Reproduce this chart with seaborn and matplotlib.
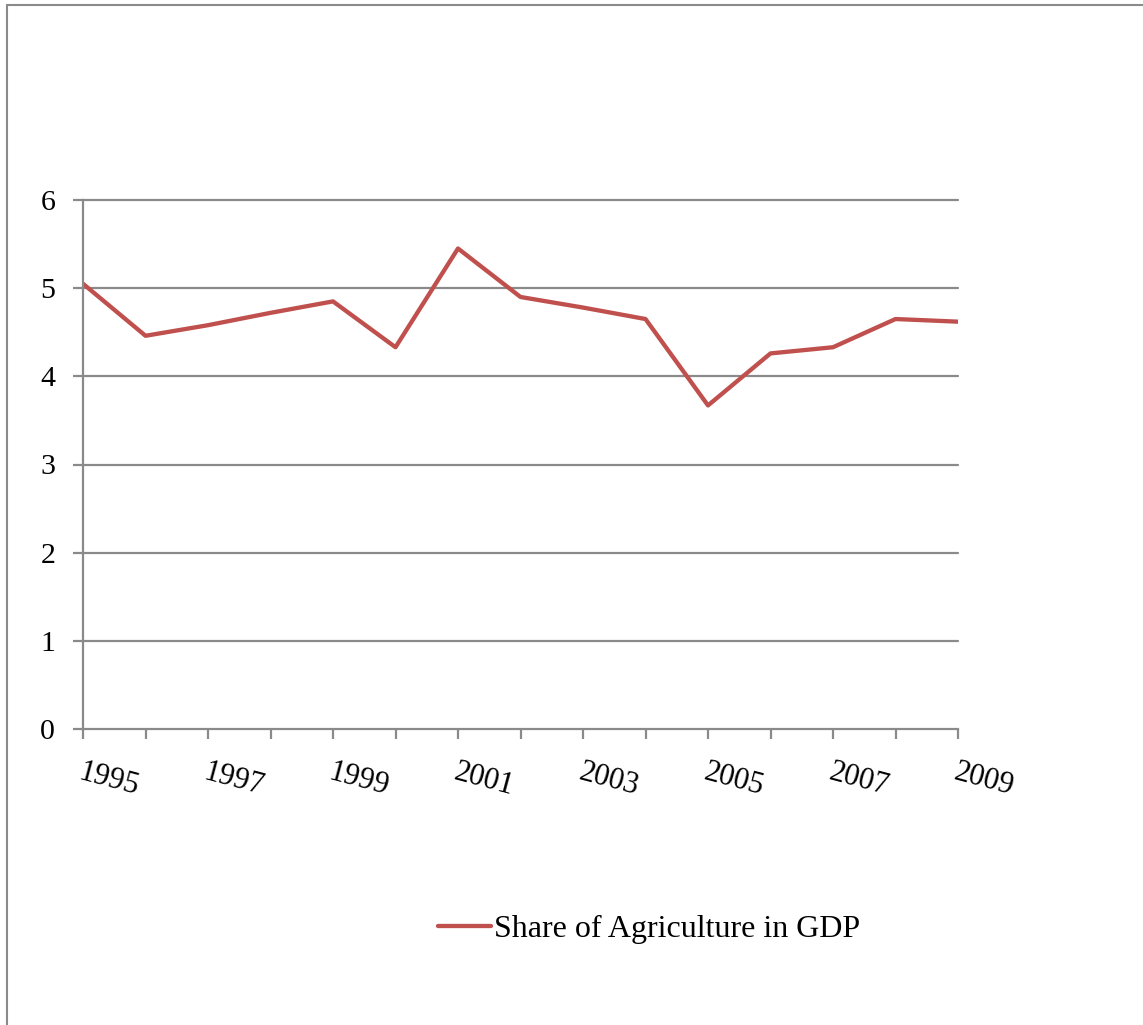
import matplotlib
matplotlib.use("Agg")
import matplotlib.pyplot as plt
import seaborn as sns
import pandas as pd
from matplotlib.lines import Line2D

years = list(range(1995, 2010))
share = [5.05, 4.46, 4.58, 4.72, 4.85, 4.33, 5.45, 4.90, 4.78, 4.65, 3.67, 4.26, 4.33, 4.65, 4.62]
series_name = "Share of Agriculture in GDP"
yticks = [0, 1, 2, 3, 4, 5, 6]
xlabel_years = [1995, 1997, 1999, 2001, 2003, 2005, 2007, 2009]

sns.set_theme(style="white")
plt.rcParams['font.family'] = ['Liberation Serif', 'DejaVu Serif']
plt.rcParams['text.color'] = 'black'

df = pd.DataFrame({"Year": years, "Share": share, "Series": series_name})

fig = plt.figure(figsize=(11.43, 10.25), dpi=100)
ax = fig.add_axes([83/1143, 1-729/1025, (958-83)/1143, (729-200)/1025])

grid_c = "#8a8a8a"
sns.lineplot(data=df, x="Year", y="Share", hue="Series", palette=["#C0504D"],
             linewidth=3.1, ax=ax, legend=False)

ax.set_xlim(1995, 2009)
ax.set_ylim(0, 6)
ax.set_yticks(yticks)
ax.set_yticklabels([str(v) for v in yticks])
ax.set_xticks(years)
ax.set_xticklabels([str(y) if y in xlabel_years else "" for y in years],
                   rotation=-15, ha="left", va="top", rotation_mode="anchor")
for y in yticks[1:]:
    ax.axhline(y, color=grid_c, lw=1.6, zorder=0, clip_on=False)
ax.set_xlabel("")
ax.set_ylabel("")
for s in ["top", "right"]:
    ax.spines[s].set_visible(False)
for s in ["left", "bottom"]:
    ax.spines[s].set_color(grid_c)
    ax.spines[s].set_linewidth(1.6)
ax.tick_params(axis="both", which="both", direction="out", length=7, width=1.6,
               color=grid_c, labelsize=21.5, labelcolor="black")
ax.tick_params(axis="y", pad=13, left=True)
ax.tick_params(axis="x", pad=14, bottom=True, labelsize=22)

handle = Line2D([], [], color="#C0504D", lw=3.1, solid_capstyle="round")
leg = fig.legend([handle], [series_name], loc="center", bbox_to_anchor=(0.568, 1-929/1025),
                 frameon=False, fontsize=23, handlelength=1.65, handletextpad=0.1)
for t in leg.get_texts():
    t.set_color("black")

fig.add_artist(Line2D([7/1143, 1], [1-5/1025, 1-5/1025], color="#8a8a8a", lw=1.5,
                      transform=fig.transFigure))
fig.add_artist(Line2D([7/1143, 7/1143], [0, 1-5/1025], color="#8a8a8a", lw=1.5,
                      transform=fig.transFigure))

fig.savefig("out.png", dpi=100)
